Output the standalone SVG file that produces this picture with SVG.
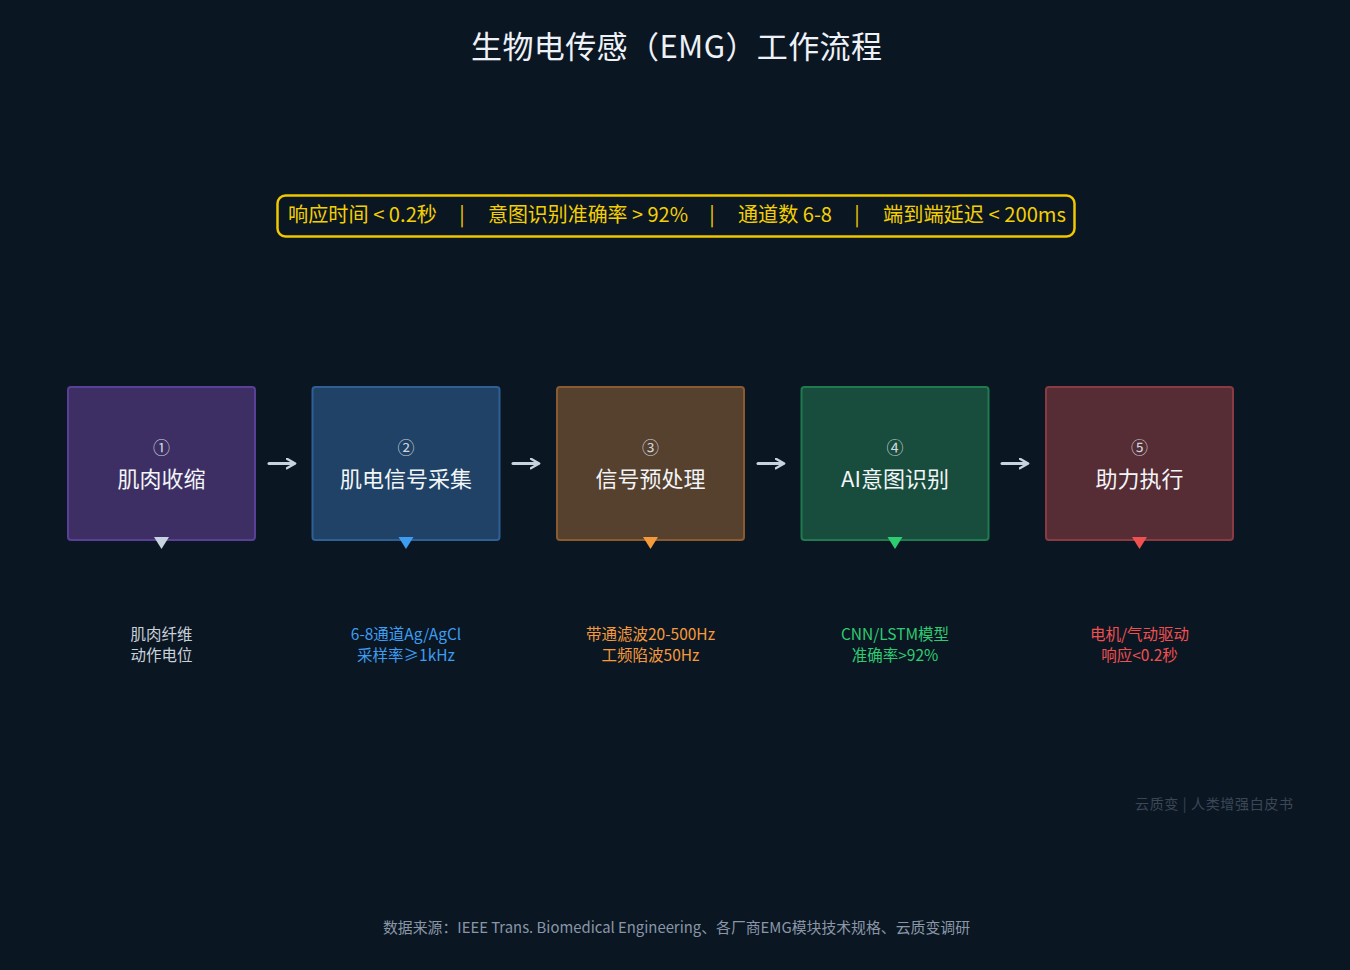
<svg xmlns="http://www.w3.org/2000/svg" width="1350" height="970" viewBox="0 0 1350 970">
<defs>
<style>
text{font-family:"Noto Sans CJK SC","Noto Sans",sans-serif;text-anchor:middle}
.title{font-size:31px;fill:#eef2f7}
.metric{font-size:20px;fill:#f5d000;text-anchor:start}
.sep{font-size:20px;fill:#f5d000}
.num{font-size:17px;fill:#cfd6df}
.lbl{font-size:22px;fill:#f2f5f8}
.sub{font-size:15.5px}
.box{stroke-width:2}
.conn{stroke:#c8d3e0;stroke-width:3;fill:none;stroke-linecap:round}
</style>
<marker id="ah" viewBox="0 0 10 10" refX="7" refY="5" markerWidth="4" markerHeight="4" orient="auto" markerUnits="strokeWidth">
<path d="M1,1 L8,5 L1,9" fill="none" stroke="#c8d3e0" stroke-width="2" stroke-linecap="round" stroke-linejoin="round"/>
</marker>
</defs>
<rect width="1350" height="970" fill="#0b1623"/>
<text class="title" x="676.5" y="58" textLength="411" lengthAdjust="spacing">生物电传感（EMG）工作流程</text>
<g id="metrics">
<rect x="277.5" y="195.5" width="797" height="41" rx="8" fill="none" stroke="#f0c800" stroke-width="2.5"/>
<text class="metric" x="288" y="222" textLength="149" lengthAdjust="spacingAndGlyphs">响应时间 &lt; 0.2秒</text>
<text class="sep" x="462" y="222">|</text>
<text class="metric" x="488" y="222" textLength="200" lengthAdjust="spacingAndGlyphs">意图识别准确率 &gt; 92%</text>
<text class="sep" x="712" y="222">|</text>
<text class="metric" x="738" y="222" textLength="94" lengthAdjust="spacingAndGlyphs">通道数 6-8</text>
<text class="sep" x="857" y="222">|</text>
<text class="metric" x="883" y="222" textLength="183" lengthAdjust="spacingAndGlyphs">端到端延迟 &lt; 200ms</text>
</g>
<g id="connectors">
<line class="conn" x1="269" y1="463.5" x2="294" y2="463.5" marker-end="url(#ah)"/>
<line class="conn" x1="513" y1="463.5" x2="538" y2="463.5" marker-end="url(#ah)"/>
<line class="conn" x1="758" y1="463.5" x2="783" y2="463.5" marker-end="url(#ah)"/>
<line class="conn" x1="1002" y1="463.5" x2="1027" y2="463.5" marker-end="url(#ah)"/>
</g>
<g id="node1">
<rect class="box" x="68" y="387" width="187" height="153" rx="3" fill="#3d2f63" stroke="#5a3f97"/>
<text class="num" x="161.5" y="454">①</text>
<text class="lbl" x="161.5" y="487">肌肉收缩</text>
<path d="M154,537 L169,537 L161.5,549 Z" fill="#c8d3e0"/>
<text class="sub" x="161.5" y="639.5" fill="#c8d0da">肌肉纤维</text>
<text class="sub" x="161.5" y="661" fill="#c8d0da">动作电位</text>
</g>
<g id="node2">
<rect class="box" x="312.5" y="387" width="187" height="153" rx="3" fill="#1f4266" stroke="#2f5f95"/>
<text class="num" x="406" y="454">②</text>
<text class="lbl" x="406" y="487">肌电信号采集</text>
<path d="M398.5,537 L413.5,537 L406,549 Z" fill="#3d9df0"/>
<text class="sub" x="406" y="639.5" fill="#3d9df0">6-8通道Ag/AgCl</text>
<text class="sub" x="406" y="661" fill="#3d9df0">采样率≥1kHz</text>
</g>
<g id="node3">
<rect class="box" x="557" y="387" width="187" height="153" rx="3" fill="#56402e" stroke="#8a5a30"/>
<text class="num" x="650.5" y="454">③</text>
<text class="lbl" x="650.5" y="487">信号预处理</text>
<path d="M643,537 L658,537 L650.5,549 Z" fill="#f59a3a"/>
<text class="sub" x="650.5" y="639.5" fill="#f59a3a">带通滤波20-500Hz</text>
<text class="sub" x="650.5" y="661" fill="#f59a3a">工频陷波50Hz</text>
</g>
<g id="node4">
<rect class="box" x="801.5" y="387" width="187" height="153" rx="3" fill="#184c3c" stroke="#1f7a50"/>
<text class="num" x="895" y="454">④</text>
<text class="lbl" x="895" y="487">AI意图识别</text>
<path d="M887.5,537 L902.5,537 L895,549 Z" fill="#2ecc71"/>
<text class="sub" x="895" y="639.5" fill="#2ecc71">CNN/LSTM模型</text>
<text class="sub" x="895" y="661" fill="#2ecc71">准确率&gt;92%</text>
</g>
<g id="node5">
<rect class="box" x="1046" y="387" width="187" height="153" rx="3" fill="#562c35" stroke="#8a3a42"/>
<text class="num" x="1139.5" y="454">⑤</text>
<text class="lbl" x="1139.5" y="487">助力执行</text>
<path d="M1132,537 L1147,537 L1139.5,549 Z" fill="#f05050"/>
<text class="sub" x="1139.5" y="639.5" fill="#f05050">电机/气动驱动</text>
<text class="sub" x="1139.5" y="661" fill="#f05050">响应&lt;0.2秒</text>
</g>
<text x="1135" y="809" style="font-size:14px;fill:#3b4756;text-anchor:start" textLength="158" lengthAdjust="spacing">云质变 | 人类增强白皮书</text>
<text x="676.5" y="933" style="font-size:15px;fill:#8a96a6" textLength="587" lengthAdjust="spacingAndGlyphs">数据来源：IEEE Trans. Biomedical Engineering、各厂商EMG模块技术规格、云质变调研</text>
</svg>
